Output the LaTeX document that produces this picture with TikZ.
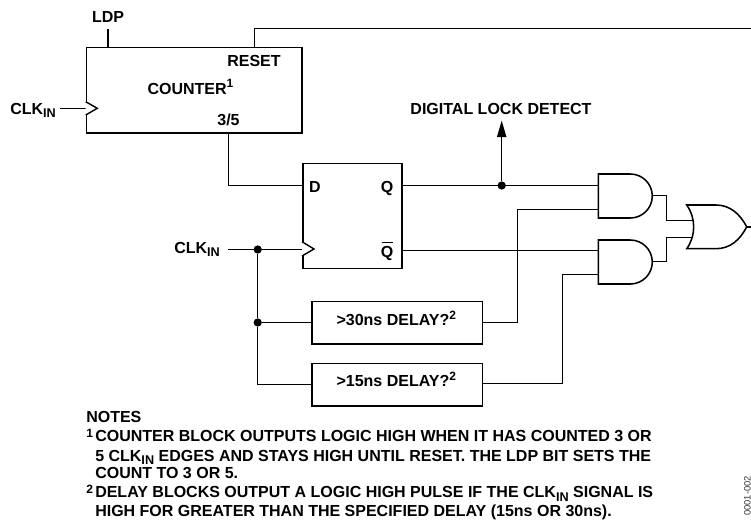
\documentclass[tikz,border=0pt]{standalone}
\usepackage{fontspec}
\setmainfont{Liberation Sans}
\tikzset{x=0.75pt,y=-0.75pt,
 wire/.style={line width=1.05pt,black},
 box/.style={line width=1.15pt,draw=black,fill=white,inner sep=0pt,anchor=north west},
 dotn/.style={circle,fill=black,inner sep=0pt,minimum size=6.2pt},
 lab/.style={font=\fontsize{12pt}{14pt}\bfseries,inner sep=0pt,text=black,anchor=base},
 note/.style={font=\fontsize{12pt}{14pt}\bfseries,inner sep=0pt,anchor=base west,text=black}}
\newcommand{\subs}[1]{\raisebox{-2.6pt}{\fontsize{9.5pt}{10pt}\selectfont #1}}
\newcommand{\sups}[1]{\raisebox{5pt}{\fontsize{9pt}{10pt}\selectfont #1}}
\begin{document}
\begin{tikzpicture}
\useasboundingbox (0,0) rectangle (751,519);
% counter
\node[box,minimum width=161.5pt,minimum height=64.2pt] (counter) at (85.7,46.7) {};
\node[lab] (ldp) at (108,22.7) {LDP};
\coordinate (ldpb) at (108,29.3);
\draw[wire] (ldpb) -- (108,46.7);
\node[lab] (reset) at (254,66) {RESET};
\node[lab] (cnt) at (190.5,94) {COUNTER\sups{1}};
\node[lab] (tf) at (228.5,125) {3/5};
\node[lab,anchor=base west] (clk1) at (10,114.5) {CLK\subs{IN}};
\coordinate (c1in) at (60,108.5);
\draw[wire] (c1in) -- (85.7,108.5);
\draw[wire,fill=white] (85.7,101.7) -- (97.3,108.3) -- (85.7,115);
% reset line
\coordinate (rstR) at (751,28.5);
\draw[wire] (254.5,46.7) -- (254.5,28.5) -- (rstR);
% FF
\node[box,minimum width=74.5pt,minimum height=78.9pt] (ff) at (302,162.5) {};
\node[lab] (d) at (315,192.7) {D};
\node[lab] (q) at (387,192.7) {Q};
\node[lab] (qb) at (387,257.7) {Q};
\draw[line width=0.9pt] (381.5,242.7) -- (392.5,242.7);
\draw[wire] (228.5,132.3) -- (228.5,185.5) -- (302,185.5);
\node[lab,anchor=base west] (clk2) at (174,253) {CLK\subs{IN}};
\coordinate (c2in) at (228,249.5);
\draw[wire] (c2in) -- (302,249.5);
\draw[wire,fill=white] (302,241.7) -- (314,249) -- (302,256);
\node[dotn] (j1) at (257.7,249.5) {};
\node[dotn] (j2) at (257.7,322.5) {};
\draw[wire] (j1) -- (j2);
\draw[wire] (j2) -- (257.7,384.5) -- (311.3,384.5);
% delay
\node[box,minimum width=127.8pt,minimum height=32pt] (d30) at (311.3,300.7) {};
\node[box,minimum width=127.8pt,minimum height=32pt] (d15) at (311.3,362.7) {};
\node[lab] at (396.3,325.7) {>30ns DELAY?\sups{2}};
\node[lab] at (396.3,386.7) {>15ns DELAY?\sups{2}};
\draw[wire] (j2) -- (311.3,322.5);
% AND
\newcommand{\andg}[2]{\draw[line width=1.15pt,fill=white] (#1,#2) -- (#1+32,#2) arc[start angle=-90,end angle=90,radius=22] -- (#1,#2+44) -- cycle;}
\andg{598.3}{174}
\andg{598.3}{240}
% or
\draw[line width=1.15pt,fill=white] (686.7,205) -- (716,205) .. controls (730,205) and (740,214) .. (746.7,226.8)
  .. controls (740,240) and (730,248.7) .. (716,248.7) -- (686.7,248.7) .. controls (696,236) and (696,218) .. (686.7,205) -- cycle;
% wires
\node[dotn] (j3) at (501.7,185.5) {};
\node[lab] (dld) at (501,114) {DIGITAL LOCK DETECT};
\draw[wire] (401.3,185.5) -- (598.3,185.5);
\draw[wire] (j3) -- (501.7,136);
\fill (496.9,137) -- (501.7,120.7) -- (506.5,137) -- cycle;
\draw[wire] (401.3,250.5) -- (598.3,250.5);
\draw[wire] (481.7,322.5) -- (517.5,322.5) -- (517.5,209.5) -- (598.3,209.5);
\draw[wire] (481.7,383.5) -- (562.5,383.5) -- (562.5,274.5) -- (598.3,274.5);
\draw[wire] (652.7,195.5) -- (666.5,195.5) -- (666.5,220.5) -- (692.5,220.5);
\draw[wire] (652.7,261.5) -- (666.5,261.5) -- (666.5,237.5) -- (692.5,237.5);
\draw[wire] (746.7,226.8) -- (751,226.8);
% notes
\node[note] at (86,422.7) {NOTES};
\node[note] at (86,437.7) {\fontsize{9pt}{10pt}\selectfont 1};
\node[note] at (95,441.7) {COUNTER BLOCK OUTPUTS LOGIC HIGH WHEN IT HAS COUNTED 3 OR};
\node[note] at (95,461) {5 CLK\subs{IN} EDGES AND STAYS HIGH UNTIL RESET. THE LDP BIT SETS THE};
\node[note] at (95,478.5) {COUNT TO 3 OR 5.};
\node[note] at (86,493) {\fontsize{9pt}{10pt}\selectfont 2};
\node[note] at (95,497.7) {DELAY BLOCKS OUTPUT A LOGIC HIGH PULSE IF THE CLK\subs{IN} SIGNAL IS};
\node[note] at (95,516.5) {HIGH FOR GREATER THAN THE SPECIFIED DELAY (15ns OR 30ns).};
\node[rotate=90,anchor=base west,inner sep=0pt,font=\fontsize{7pt}{8pt}\selectfont,text=black!80] (code) at (750.6,516) {0001-002};
\end{tikzpicture}
\end{document}
